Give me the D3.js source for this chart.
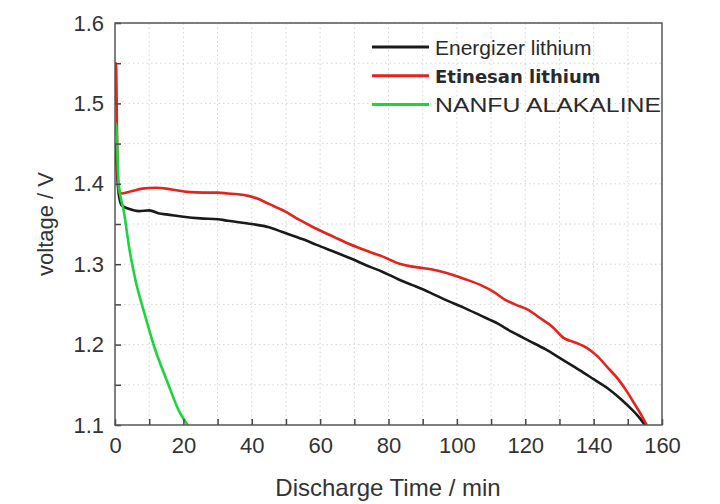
<!DOCTYPE html>
<html>
<head>
<meta charset="utf-8">
<script src="https://cdn.jsdelivr.net/npm/d3@7"></script>
<style>
  body { margin: 0; background: #fff; }
  .tick text { font-family: "Liberation Sans", Arial, sans-serif; font-size: 22px; fill: #333; }
  .grid line { stroke: #d4d4d4; stroke-dasharray: 1.5 3; }
</style>
</head>
<body>
<div class="chart"></div>
<script>
// Energizer lithium
const energizerTime = [0, 0.5, 1, 2, 4, 7, 10, 13, 15, 20, 25, 30, 33, 40, 45, 49, 55, 59, 65, 69, 75, 78, 83, 87, 92, 97, 102, 107, 112, 116, 121, 126, 131, 136, 140, 144, 148, 151, 153, 155]
const energizerVolt = [1.45, 1.42, 1.39, 1.373, 1.369, 1.366, 1.367, 1.363, 1.362, 1.359, 1.357, 1.356, 1.354, 1.35, 1.346, 1.34, 1.331, 1.324, 1.314, 1.307, 1.296, 1.291, 1.281, 1.274, 1.265, 1.255, 1.246, 1.236, 1.226, 1.216, 1.205, 1.194, 1.181, 1.168, 1.157, 1.146, 1.132, 1.12, 1.111, 1.1]

// Etinesan lithium
const etinesanTime = [0, 0.3, 0.6, 1, 2, 5, 8, 12, 15, 18, 21, 26, 30, 33, 36, 39, 42, 45, 50, 54, 58, 64, 68, 74, 78, 83, 87, 92, 97, 102, 107, 111, 114, 117, 121, 124, 128, 131, 135, 138, 141, 144, 147, 150, 152, 154, 155.5]
const etinesanVolt = [1.5, 1.55, 1.46, 1.39, 1.388, 1.391, 1.394, 1.395, 1.394, 1.392, 1.39, 1.389, 1.389, 1.388, 1.387, 1.385, 1.381, 1.375, 1.365, 1.355, 1.346, 1.334, 1.326, 1.316, 1.31, 1.301, 1.297, 1.294, 1.289, 1.282, 1.274, 1.265, 1.256, 1.25, 1.243, 1.234, 1.222, 1.209, 1.202, 1.196, 1.186, 1.172, 1.158, 1.14, 1.126, 1.112, 1.1]

// NANFU alkaline
const nanfuTime = [0, 0.3, 1, 2.7, 4.1, 6, 8.6, 11.5, 15.1, 19, 21.3]
const nanfuVolt = [1.46, 1.475, 1.404, 1.363, 1.322, 1.28, 1.239, 1.197, 1.156, 1.115, 1.1]

const xTicks = [0, 20, 40, 60, 80, 100, 120, 140, 160]
const yTicks = [1.1, 1.2, 1.3, 1.4, 1.5, 1.6]

const series = [
  { name: 'Energizer lithium', color: '#1a1a1a', bold: false, t: energizerTime, v: energizerVolt },
  { name: 'Etinesan lithium', color: '#e3231c', bold: true, t: etinesanTime, v: etinesanVolt },
  { name: 'NANFU ALAKALINE', color: '#1ed43c', bold: false, t: nanfuTime, v: nanfuVolt }
]

const width = 720
const height = 504
const margin = { top: 23, right: 58, bottom: 79, left: 115 }
const innerW = width - margin.left - margin.right
const innerH = height - margin.top - margin.bottom

const svg = d3.select('.chart').append('svg')
  .attr('width', width)
  .attr('height', height)

const g = svg.append('g').attr('transform', `translate(${margin.left},${margin.top})`)

// scales
const x = d3.scaleLinear().domain([0, 160]).range([0, innerW])
const y = d3.scaleLinear().domain([1.1, 1.6]).range([innerH, 0])

// grid on minor ticks
g.append('g').attr('class', 'grid')
  .selectAll('line')
  .data(d3.range(10, 160, 10))
  .join('line')
  .attr('x1', d => x(d)).attr('x2', d => x(d))
  .attr('y1', 0).attr('y2', innerH)

g.append('g').attr('class', 'grid')
  .selectAll('line')
  .data(d3.range(1.15, 1.6, 0.05))
  .join('line')
  .attr('y1', d => y(d)).attr('y2', d => y(d))
  .attr('x1', 0).attr('x2', innerW)

// clip
svg.append('clipPath').attr('id', 'clip')
  .append('rect').attr('width', innerW).attr('height', innerH)

const line = d3.line()
  .curve(d3.curveMonotoneX)
  .x(d => x(d[0]))
  .y(d => y(d[1]))

const plot = g.append('g').attr('clip-path', 'url(#clip)')

series.forEach(s => {
  plot.append('path')
    .datum(s.t.map((t, i) => [t, s.v[i]]))
    .attr('fill', 'none')
    .attr('stroke', s.color)
    .attr('stroke-width', 2.6)
    .attr('stroke-linejoin', 'round')
    .attr('d', line)
})

// axes (ticks inward)
const xAxis = g.append('g').attr('transform', `translate(0,${innerH})`)
  .call(d3.axisBottom(x).tickValues(d3.range(0, 161, 10)).tickSizeInner(-6).tickSizeOuter(0).tickPadding(12)
    .tickFormat(d => xTicks.includes(d) ? d : ''))

const yAxis = g.append('g')
  .call(d3.axisLeft(y).tickValues(d3.range(1.1, 1.601, 0.05)).tickSizeInner(-6).tickSizeOuter(0).tickPadding(11)
    .tickFormat(d => yTicks.some(t => Math.abs(t - d) < 1e-6) ? d3.format('.1f')(d) : ''))

;[xAxis, yAxis].forEach(a => {
  a.select('.domain').remove()
  a.selectAll('.tick line').attr('stroke', '#444').attr('stroke-width', 1.5)
})

// frame
g.append('rect')
  .attr('width', innerW).attr('height', innerH)
  .attr('fill', 'none').attr('stroke', '#555').attr('stroke-width', 1.5)

// axis titles
svg.append('text')
  .attr('x', 388)
  .attr('y', 496)
  .attr('text-anchor', 'middle')
  .attr('font-family', '"Liberation Sans", Arial, sans-serif')
  .attr('font-size', 24)
  .attr('fill', '#333')
  .text('Discharge Time / min')

svg.append('text')
  .attr('transform', 'translate(53,224) rotate(-90)')
  .attr('text-anchor', 'middle')
  .attr('font-family', '"Liberation Sans", Arial, sans-serif')
  .attr('font-size', 22)
  .attr('fill', '#333')
  .text('voltage / V')

// legend
const legend = svg.append('g').attr('transform', 'translate(372,47)')
series.forEach((s, i) => {
  const row = legend.append('g').attr('transform', `translate(0,${i * 28.8})`)
  row.append('line')
    .attr('x1', 0).attr('x2', 57)
    .attr('stroke', s.color).attr('stroke-width', 3)
  const label = row.append('text')
    .attr('x', 63).attr('y', 7.5)
    .attr('font-family', s.bold ? '"DejaVu Sans", sans-serif' : '"Liberation Sans", Arial, sans-serif')
    .attr('font-weight', s.bold ? 'bold' : 'normal')
    .attr('font-size', s.bold ? 18 : 21)
    .attr('fill', '#2a2a2a')
    .text(s.name)
  if (i === 2) label.attr('textLength', 226).attr('lengthAdjust', 'spacingAndGlyphs')
})
</script>
</body>
</html>
